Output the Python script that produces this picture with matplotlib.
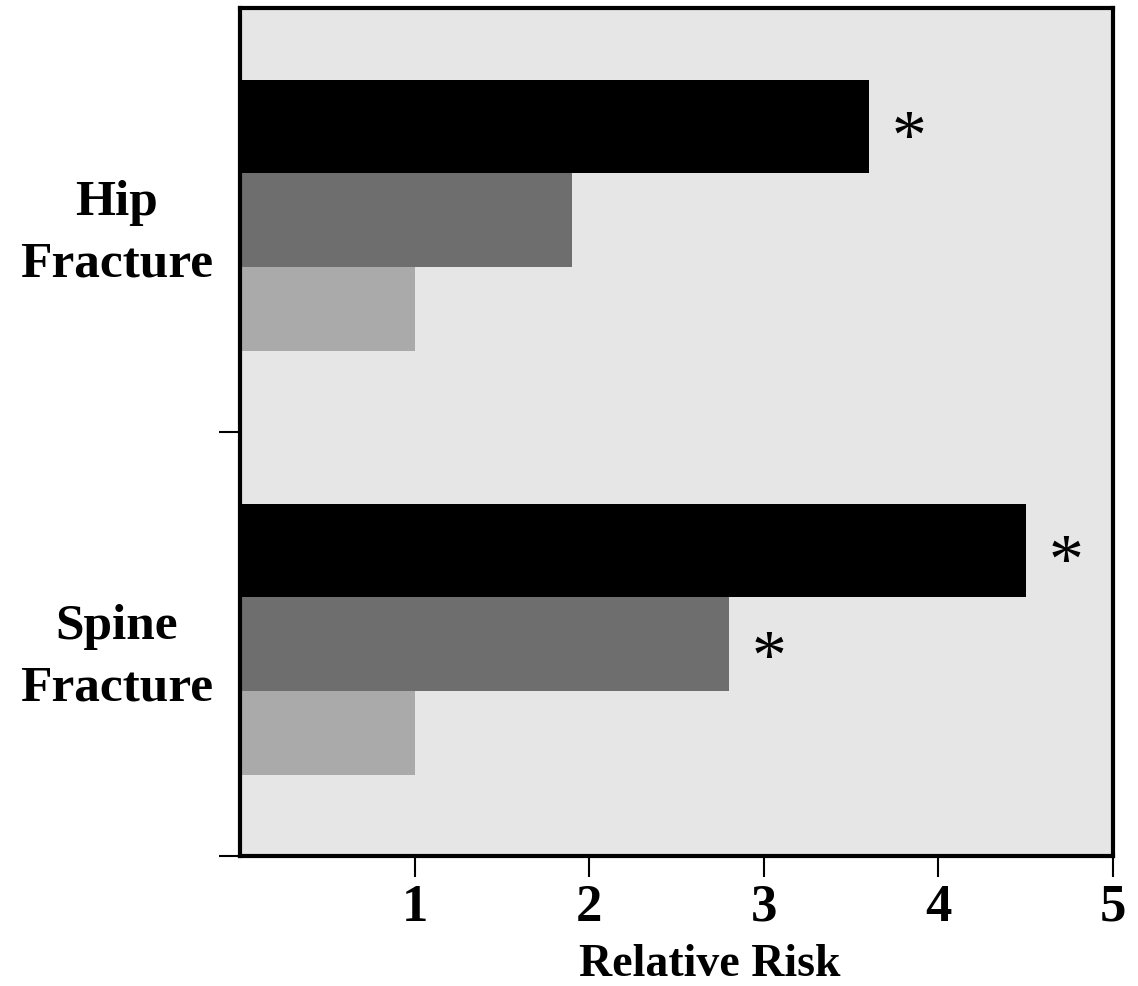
import matplotlib.pyplot as plt

# relative risk by fracture site, three exposure groups per site
sites = ["Spine\nFracture", "Hip\nFracture"]
high_risk = [4.5, 3.6]
mid_risk = [2.8, 1.9]
ref_risk = [1.0, 1.0]
# asterisk = significant vs reference
high_sig = [True, True]
mid_sig = [True, False]

plt.rcParams['font.family'] = ['Liberation Serif', 'DejaVu Serif']
plt.rcParams['font.weight'] = 'bold'

fig = plt.figure(figsize=(11.38, 9.86), dpi=100)
ax = fig.add_axes([0.2109, 0.1318, 0.7672, 0.8601])
ax.set_facecolor('#e6e6e6')

base = [0, 1]
for i in range(len(sites)):
    b = base[i]
    ax.barh(b + 0.61, high_risk[i], height=0.22, align='edge', color='black')
    ax.barh(b + 0.39, mid_risk[i], height=0.22, align='edge', color='#6e6e6e')
    ax.barh(b + 0.19, ref_risk[i], height=0.20, align='edge', color='#aaaaaa')
    if high_sig[i]:
        ax.text(high_risk[i] + 0.23, b + 0.685, '*', fontsize=50, fontweight='normal',
                ha='center', va='center')
    if mid_sig[i]:
        ax.text(mid_risk[i] + 0.23, b + 0.46, '*', fontsize=50, fontweight='normal',
                ha='center', va='center')
    ax.text(-0.141, b + 0.468, sites[i], transform=ax.get_yaxis_transform(),
            ha='center', va='center', fontsize=37, fontweight='bold', linespacing=1.45)

ax.set_xlim(0, 5)
ax.set_ylim(0, 2)
ax.set_xticks([1, 2, 3, 4, 5])
ax.set_xticklabels(['1', '2', '3', '4', '5'], fontsize=38, fontweight='bold')
ax.set_yticks([0, 1])
ax.set_yticklabels([])
ax.tick_params(axis='both', direction='out', length=15, width=1.5, pad=5)

for s in ax.spines.values():
    s.set_linewidth(3)

ax.set_xlabel('Relative Risk', fontsize=33, fontweight='bold')
ax.xaxis.set_label_coords(0.538, -0.104)

fig.savefig('out.png', dpi=100)
